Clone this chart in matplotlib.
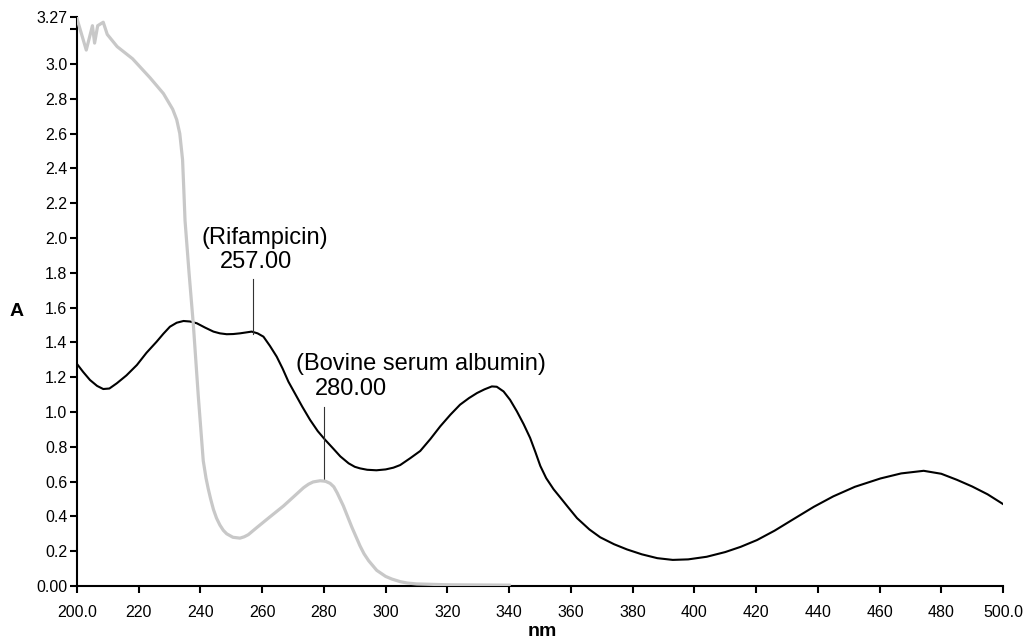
import numpy as np
import matplotlib
matplotlib.use("Agg")
import matplotlib.pyplot as plt

plt.rcParams['font.family'] = ['Liberation Sans', 'DejaVu Sans']

# Rifampicin absorbance spectrum (black)
rif_nm = [200, 202, 204.2, 206.5, 208.5, 210.5, 212.9, 216, 219.4, 222.5, 225.8, 228,
          230.1, 232.3, 234.5, 236.6, 238.8, 241.5, 244.2, 246.3, 248.5, 250.6, 252.8,
          254.7, 256.6, 258.5, 260.4, 262.5, 264.7, 266.6, 268.5, 270.5, 273, 275.5, 278,
          280.4, 283, 285.3, 288, 290, 291.7, 294, 297, 300, 302.5, 304.7, 308, 311.2,
          314.5, 317.7, 321, 324.1, 327, 329.6, 332, 334.4, 336, 338.2, 340.3, 342.5,
          344.7, 346.8, 348.5, 350.1, 352, 354.4, 356.6, 359, 362, 366, 369.5, 374, 378.2,
          383, 388, 393, 398, 404, 410, 415, 420.3, 426, 432, 438.7, 445, 452, 460.3, 467,
          474.3, 480, 485.1, 490, 495, 500]
rif_abs = [1.276, 1.23, 1.184, 1.15, 1.132, 1.135, 1.165, 1.21, 1.27, 1.34, 1.404, 1.45,
           1.49, 1.513, 1.523, 1.52, 1.51, 1.485, 1.462, 1.452, 1.447, 1.448, 1.452, 1.457,
           1.462, 1.452, 1.433, 1.38, 1.318, 1.25, 1.174, 1.11, 1.03, 0.955, 0.89, 0.84,
           0.79, 0.745, 0.705, 0.685, 0.676, 0.668, 0.665, 0.67, 0.68, 0.695, 0.735, 0.776,
           0.845, 0.918, 0.985, 1.042, 1.08, 1.109, 1.13, 1.147, 1.145, 1.118, 1.07, 1.004,
           0.93, 0.851, 0.77, 0.69, 0.62, 0.556, 0.508, 0.455, 0.39, 0.325, 0.28, 0.24,
           0.21, 0.182, 0.16, 0.15, 0.153, 0.168, 0.195, 0.225, 0.264, 0.318, 0.383, 0.455,
           0.515, 0.57, 0.618, 0.647, 0.662, 0.645, 0.61, 0.572, 0.527, 0.471]

# Bovine serum albumin spectrum (grey)
bsa_nm = [200, 203, 205, 205.7, 206.7, 208.5, 209.8, 213, 218, 223.7, 228, 231, 232.3,
          233.3, 234.2, 234.6, 235, 236.3, 237.7, 239.3, 240.9, 241.8, 242.5, 243.3, 244.2,
          245.2, 246.3, 247.4, 248.5, 250.5, 252.8, 254.2, 255.5, 258.2, 262, 266.9, 270,
          273.4, 275, 276.5, 278.8, 280.5, 282, 283.2, 284.3, 286.3, 289, 291.7, 293, 294.5,
          297.1, 300, 302, 304.7, 307, 310, 320, 330, 340]
bsa_abs = [3.26, 3.08, 3.22, 3.12, 3.22, 3.24, 3.17, 3.10, 3.03, 2.92, 2.83, 2.74, 2.68,
           2.60, 2.45, 2.28, 2.10, 1.80, 1.50, 1.09, 0.72, 0.62, 0.56, 0.50, 0.44, 0.39,
           0.35, 0.32, 0.30, 0.28, 0.275, 0.283, 0.295, 0.335, 0.39, 0.46, 0.51, 0.565,
           0.585, 0.598, 0.605, 0.602, 0.59, 0.57, 0.535, 0.46, 0.34, 0.23, 0.185, 0.145,
           0.09, 0.055, 0.04, 0.025, 0.017, 0.012, 0.007, 0.006, 0.005]

# peak markers: label, peak wavelength, leader line bottom / top
peak_names = ['(Rifampicin)', '(Bovine serum albumin)']
peak_nm = [257.00, 280.00]
peak_line_lo = [1.45, 0.603]
peak_line_hi = [1.764, 1.028]

x_ticks = np.arange(200, 501, 20)
x_labels = ['200.0'] + [str(v) for v in x_ticks[1:-1]] + ['500.0']
y_ticks = list(np.round(np.arange(0, 3.21, 0.2), 1)) + [3.27]
y_labels = ['0.00'] + [f'{v:.1f}' for v in y_ticks[1:-2]] + ['', '3.27']

fig = plt.figure(figsize=(10.27, 6.38), dpi=100)
ax = fig.add_axes([77 / 1027, 1 - 586 / 638, (1003 - 77) / 1027, (586 - 17) / 638])

ax.plot(rif_nm, rif_abs, color='black', lw=1.5, zorder=2)
ax.plot(bsa_nm, bsa_abs, color='#c8c8c8', lw=2.3, zorder=3)

# leader lines and labels for the two peaks
for i in range(2):
    ax.plot([peak_nm[i]] * 2, [peak_line_lo[i], peak_line_hi[i]], color='#333333', lw=0.8)
ax.text(260.8, 2.0, peak_names[0], ha='center', va='center', fontsize=17)
ax.text(258.1, 1.86, f'{peak_nm[0]:.2f}', ha='center', va='center', fontsize=17)
ax.text(311.3, 1.275, peak_names[1], ha='center', va='center', fontsize=17)
ax.text(288.7, 1.133, f'{peak_nm[1]:.2f}', ha='center', va='center', fontsize=17)

ax.set_xlim(200, 500)
ax.set_ylim(0, 3.27)
ax.set_xticks(x_ticks)
ax.set_xticklabels(x_labels)
ax.set_yticks(y_ticks)
ax.set_yticklabels(y_labels)

for side in ['top', 'right']:
    ax.spines[side].set_visible(False)
for side in ['left', 'bottom']:
    ax.spines[side].set_linewidth(1.5)
ax.tick_params(axis='both', direction='out', length=5, width=1.5, labelsize=11.5)
ax.tick_params(axis='x', pad=9)
ax.tick_params(axis='y', pad=2)

fig.text(17 / 1027, 1 - 312 / 638, 'A', ha='center', va='center', fontsize=14, fontweight='bold')
fig.text(542 / 1027, 1 - 636 / 638, 'nm', ha='center', va='baseline', fontsize=14, fontweight='bold')

fig.savefig('out.png', dpi=100)
